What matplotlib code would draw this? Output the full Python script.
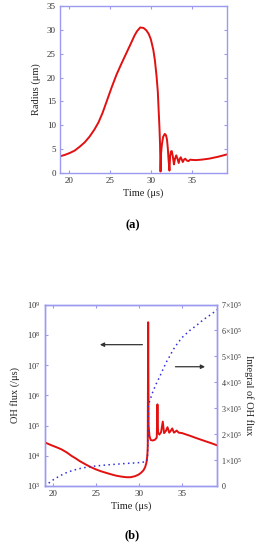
import numpy as np
import matplotlib
matplotlib.use("Agg")
import matplotlib.pyplot as plt
from matplotlib.ticker import FixedLocator, FuncFormatter, NullLocator

plt.rcParams['font.family'] = ['Liberation Serif', 'DejaVu Serif']
plt.rcParams['mathtext.fontset'] = 'custom'
plt.rcParams['mathtext.rm'] = 'Liberation Serif'
plt.rcParams['mathtext.it'] = 'Liberation Serif:italic'

# (a) bubble radius
t_rad = [18.9, 19.5, 20.1, 20.7, 21.3, 21.9, 22.5, 23.1, 23.6, 24.1, 24.6, 25.2,
         25.8, 26.4, 27.0, 27.6, 28.0, 28.3, 28.7, 29.1, 29.45, 29.75, 30.0, 30.3,
         30.5, 30.7, 30.85, 30.95, 31.05, 31.12, 31.18,
         31.25, 31.35, 31.5, 31.7, 31.85, 31.97, 32.07, 32.15, 32.27, 32.35, 32.45,
         32.55, 32.68, 32.82, 32.95, 33.1, 33.25, 33.4, 33.52, 33.65, 33.78, 33.9,
         34.05, 34.2, 34.4, 34.6, 34.8, 35.0, 35.5, 36.2, 37.1, 38.2, 39.3]
radius = [3.5, 3.8, 4.2, 4.7, 5.5, 6.4, 7.6, 9.1, 10.6, 12.6, 15.0, 17.9,
          20.6, 22.9, 25.1, 27.3, 28.8, 29.7, 30.5, 30.4, 29.9, 29.1, 28.0, 25.8,
          23.5, 20.2, 17.0, 13.2, 9.5, 6.0, 0.3,
          4.2, 6.0, 7.6, 8.2, 7.9, 7.0, 5.2, 3.0, 0.5, 3.5, 4.5,
          4.6, 3.5, 1.8, 3.0, 3.7, 3.0, 2.1, 2.9, 3.3, 2.8, 2.3,
          2.8, 3.0, 2.6, 2.5, 2.8, 2.75, 2.7, 2.8, 3.0, 3.4, 3.9]

# (b) OH flux (log, left) and its integral (linear, right)
t_flux = [19.0, 19.5, 20.0, 20.5, 21.0, 21.6, 22.1, 22.6, 23.1, 23.7, 24.3, 24.9,
          25.5, 26.1, 26.7, 27.3, 27.9, 28.5, 29.0, 29.5, 29.9, 30.2, 30.5, 30.7,
          30.85, 30.95, 31.0, 31.05, 31.1, 31.2, 31.35, 31.6, 31.85,
          32.05, 32.13, 32.2, 32.35, 32.55, 32.75, 32.9, 33.1, 33.3, 33.5, 33.65,
          33.85, 34.05, 34.2, 34.37, 34.6, 35.0, 35.8, 36.7, 37.6, 38.4, 39.1]
oh_flux = [2.8e4, 2.4e4, 2.1e4, 1.85e4, 1.6e4, 1.27e4, 1.0e4, 8.2e3, 6.6e3, 5.3e3, 4.3e3, 3.6e3,
           3.1e3, 2.75e3, 2.45e3, 2.2e3, 2.05e3, 1.95e3, 1.95e3, 2.1e3, 2.35e3, 2.7e3, 3.3e3, 4.2e3,
           6e3, 1.0e4, 2e4, 2.6e8, 1e5, 4.5e4, 3.3e4, 3.2e4, 3.4e4,
           4e4, 5e5, 5.8e4, 5e4, 6e4, 1.35e5, 5.6e4, 6.5e4, 8.8e4, 5.8e4, 6.5e4,
           8e4, 5.8e4, 6.2e4, 6.8e4, 5.8e4, 5.6e4, 4.7e4, 3.8e4, 3.1e4, 2.6e4, 2.2e4]

t_int = [19.0, 19.5, 20.0, 20.5, 21.0, 21.5, 22.0, 22.6, 23.2, 23.8, 24.5, 25.5,
         26.5, 27.5, 28.5, 29.5, 30.3, 30.9, 31.0, 31.05, 31.3, 31.6, 32.0, 32.4,
         32.8, 33.2, 33.6, 33.95, 34.5, 35.1, 35.9, 36.7, 37.5, 38.3, 39.1]
oh_integral = [0.0, 0.12e5, 0.24e5, 0.34e5, 0.43e5, 0.51e5, 0.57e5, 0.63e5, 0.68e5, 0.72e5,
               0.755e5, 0.79e5, 0.82e5, 0.845e5, 0.87e5, 0.89e5, 0.91e5, 0.95e5, 1.3e5,
               3.1e5, 3.35e5, 3.64e5, 3.95e5, 4.22e5, 4.52e5, 4.8e5, 5.03e5, 5.25e5,
               5.52e5, 5.76e5, 6.0e5, 6.2e5, 6.42e5, 6.6e5, 6.8e5]

left_arrow = [(30.7, 4.7e7), (25.1, 4.7e7)]
right_arrow = [(33.9, 4.6e5), (38.0, 4.6e5)]

spine_col = '#9a9af0'
red = '#e21010'
blue = '#3030e0'

fig = plt.figure(figsize=(2.65, 5.5), dpi=100)

def style(ax, size=6.5):
	for s in ax.spines.values():
		s.set_color(spine_col)
		s.set_linewidth(1.0)
	ax.tick_params(direction='in', length=2.5, width=0.8, color=spine_col,
	               labelsize=size, labelcolor='#333333', pad=3)

# ---- (a)
ax1 = fig.add_axes([60/265, 1-173/550, 167/265, 167/550])
ax1.plot(t_rad, radius, color=red, lw=1.4)
ax1.set_xlim(18.9, 39.3)
ax1.set_ylim(0, 35)
ax1.set_xticks([20, 25, 30, 35])
ax1.set_yticks(range(0, 36, 5))
style(ax1)
ax1.tick_params(top=True, right=True)
ax1.set_xlabel('Time (μs)', fontsize=7.5, color='#222222', labelpad=2)
ax1.set_ylabel('Radius (μm)', fontsize=7.5, color='#222222', labelpad=4)
fig.text(0.5, 1-225/550, '(a)', ha='center', va='center', fontsize=9, fontweight='bold')

# ---- (b)
ax2 = fig.add_axes([44.7/265, 1-486/550, 172.6/265, 181.5/550])
ax2.set_yscale('log')
ax2.plot(t_flux, oh_flux, color=red, lw=1.4, zorder=3)
ax2.set_xlim(19.0, 39.1)
ax2.set_ylim(1e3, 1e9)
ax2.set_xticks([20, 25, 30, 35])
ax2.yaxis.set_major_locator(FixedLocator([10.0**k for k in range(3, 10)]))
ax2.yaxis.set_minor_locator(NullLocator())
ax2.yaxis.set_major_formatter(FuncFormatter(lambda v, p: r'$10^{%d}$' % round(np.log10(v))))
style(ax2, 6.2)
ax2.tick_params(axis='x', labelsize=6.5)
ax2.tick_params(top=True)
ax2.set_xlabel('Time (μs)', fontsize=7.5, color='#222222', labelpad=2)
ax2.set_ylabel('OH flux (/μs)', fontsize=7.5, color='#222222', labelpad=5)

ax3 = ax2.twinx()
ax3.plot(t_int, oh_integral, color=blue, lw=1.1, linestyle=(0, (1, 2.2)))
ax3.set_ylim(0, 7e5)
ax3.set_yticks([k*1e5 for k in range(8)])
ax3.yaxis.set_major_formatter(FuncFormatter(
	lambda v, p: '0' if v == 0 else r'$%d\!\times\!10^{5}$' % round(v/1e5)))
style(ax3, 5.8)
ax3.set_ylabel('Integral of OH flux', fontsize=7.5, color='#222222', rotation=-90, labelpad=8)

ax2.annotate('', xy=left_arrow[1], xytext=left_arrow[0],
             arrowprops=dict(arrowstyle='-|>', color='#333333', lw=0.9, mutation_scale=6))
ax3.annotate('', xy=right_arrow[1], xytext=right_arrow[0],
             arrowprops=dict(arrowstyle='-|>', color='#333333', lw=0.9, mutation_scale=6))

fig.text(0.5, 1-535/550, '(b)', ha='center', va='center', fontsize=9, fontweight='bold')

fig.savefig('out.png', dpi=100)
